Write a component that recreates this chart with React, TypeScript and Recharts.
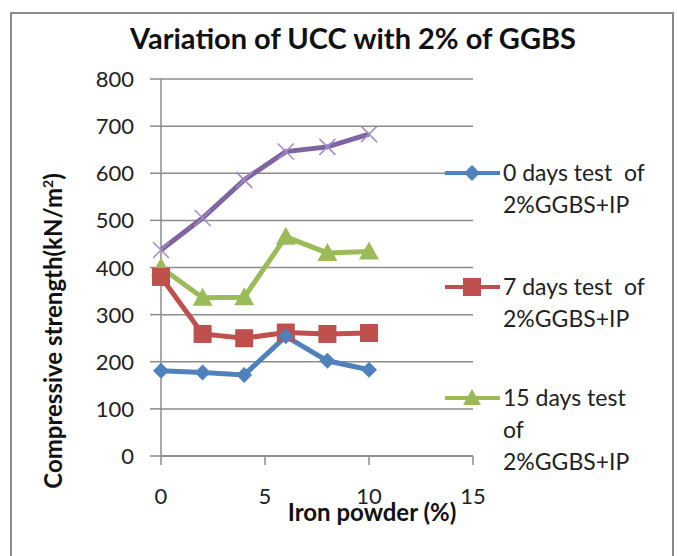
import { LineChart, Line, XAxis, YAxis, CartesianGrid } from "recharts";

// ─── Data ─────────────────────────────────────────────────────────────────────

const IRON_POWDER = [0, 2, 4, 6, 8, 10];
const DAY0 = [181, 177, 172, 254, 202, 183];
const DAY7 = [380, 259, 250, 262, 259, 261];
const DAY15 = [400, 336, 337, 465, 431, 434];
const DAY28 = [437, 505, 586, 646, 656, 683];
const X_TICKS = [0, 5, 10, 15];
const Y_TICKS = [0, 100, 200, 300, 400, 500, 600, 700, 800];

const rows = IRON_POWDER.map((x, i) => ({
  x,
  d0: DAY0[i],
  d7: DAY7[i],
  d15: DAY15[i],
  d28: DAY28[i],
}));

const BLUE = "#4F81BD";
const RED = "#C0504D";
const GREEN = "#9BBB59";
const PURPLE = "#8064A2";
const FONT = "Lato, 'Open Sans', sans-serif";

// ─── Markers ─────────────────────────────────────────────────────────────────

function Diamond({ cx, cy }: any) {
  const r = 8;
  return <path d={`M${cx},${cy - r}L${cx + r},${cy}L${cx},${cy + r}L${cx - r},${cy}Z`} fill={BLUE} />;
}
function Square({ cx, cy }: any) {
  const r = 9;
  return <rect x={cx - r} y={cy - r} width={r * 2} height={r * 2} fill={RED} />;
}
function Triangle({ cx, cy }: any) {
  const r = 10;
  return <path d={`M${cx},${cy - r}L${cx + r},${cy + r * 0.8}L${cx - r},${cy + r * 0.8}Z`} fill={GREEN} />;
}
function Cross({ cx, cy }: any) {
  const r = 8;
  return (
    <g stroke="#A08CC8" strokeWidth={1.5}>
      <line x1={cx - r} y1={cy - r} x2={cx + r} y2={cy + r} />
      <line x1={cx - r} y1={cy + r} x2={cx + r} y2={cy - r} />
    </g>
  );
}

function XTick({ x, y, payload }: any) {
  return (
    <text x={x} y={y + 37} textAnchor="middle" fontSize={22} fill="#222" fontFamily={FONT}>
      {payload.value}
    </text>
  );
}

function YTick({ x, y, payload }: any) {
  return (
    <text x={x - 14} y={y + 8} textAnchor="end" fontSize={22} fill="#222" fontFamily={FONT}>
      {payload.value}
    </text>
  );
}

const LEGEND = [
  { color: BLUE, marker: "diamond", lines: ["0 days test  of", "2%GGBS+IP"], top: 156 },
  { color: RED, marker: "square", lines: ["7 days test  of", "2%GGBS+IP"], top: 270 },
  { color: GREEN, marker: "triangle", lines: ["15 days test", "of", "2%GGBS+IP"], top: 381 },
];

function LegendIcon({ color, marker }: { color: string; marker: string }) {
  return (
    <svg width={58} height={20} style={{ position: "absolute", left: 0, top: 7 }}>
      <line x1={1} y1={10} x2={56} y2={10} stroke={color} strokeWidth={4} />
      {marker === "diamond" && <Diamond cx={28} cy={10} />}
      {marker === "square" && <Square cx={28} cy={10} />}
      {marker === "triangle" && <path d="M28,1L37,17L19,17Z" fill={color} />}
    </svg>
  );
}

export default function App() {
  return (
    <div style={{ position: "absolute", left: 0, top: 0, width: 678, height: 556, overflow: "hidden", background: "#fff", fontFamily: FONT }}>
      <div style={{ position: "absolute", left: 10, top: 12, width: 660, height: 600, border: "2px solid #8a8a8a" }} />
      <div style={{ position: "absolute", left: 0, top: 20, width: 706, textAlign: "center", fontSize: 29, fontWeight: 700, color: "#111" }}>
        Variation of UCC with 2% of GGBS
      </div>
      <div style={{ position: "absolute", left: 0, top: 0 }}>
        <LineChart width={678} height={556} data={rows} margin={{ top: 79, right: 205, left: 101, bottom: 60 }}>
          <CartesianGrid vertical={false} stroke="#8c8c8c" strokeWidth={1.5} />
          <XAxis
            dataKey="x"
            type="number"
            domain={[0, 15]}
            ticks={X_TICKS}
            height={40}
            tick={<XTick />}
            stroke="#8c8c8c"
            strokeWidth={1.5}
            tickSize={9}
          />
          <YAxis
            domain={[0, 800]}
            ticks={Y_TICKS}
            width={60}
            tick={<YTick />}
            stroke="#8c8c8c"
            strokeWidth={1.5}
            tickSize={11}
          />
          <Line dataKey="d28" stroke={PURPLE} strokeWidth={5} dot={<Cross />} isAnimationActive={false} />
          <Line dataKey="d15" stroke={GREEN} strokeWidth={5} dot={<Triangle />} isAnimationActive={false} />
          <Line dataKey="d7" stroke={RED} strokeWidth={5} dot={<Square />} isAnimationActive={false} />
          <Line dataKey="d0" stroke={BLUE} strokeWidth={5} dot={<Diamond />} isAnimationActive={false} />
        </LineChart>
      </div>
      <div
        style={{
          position: "absolute",
          left: 52,
          top: 331,
          transform: "translate(-50%, -50%) rotate(-90deg)",
          whiteSpace: "nowrap",
          fontSize: 24,
          fontWeight: 700,
          color: "#111",
        }}
      >
        Compressive strength(kN/m<sup style={{ fontSize: 14 }}>2</sup>)
      </div>
      <div style={{ position: "absolute", left: 372, top: 497, transform: "translateX(-50%)", whiteSpace: "nowrap", fontSize: 24, fontWeight: 700, color: "#111" }}>
        Iron powder (%)
      </div>
      {LEGEND.map((l) => (
        <div key={l.color} style={{ position: "absolute", left: 444, top: l.top, width: 230 }}>
          <LegendIcon color={l.color} marker={l.marker} />
          <div style={{ marginLeft: 59, fontSize: 23, lineHeight: "32px", color: "#222", whiteSpace: "pre" }}>
            {l.lines.map((t) => (
              <div key={t}>{t}</div>
            ))}
          </div>
        </div>
      ))}
    </div>
  );
}
